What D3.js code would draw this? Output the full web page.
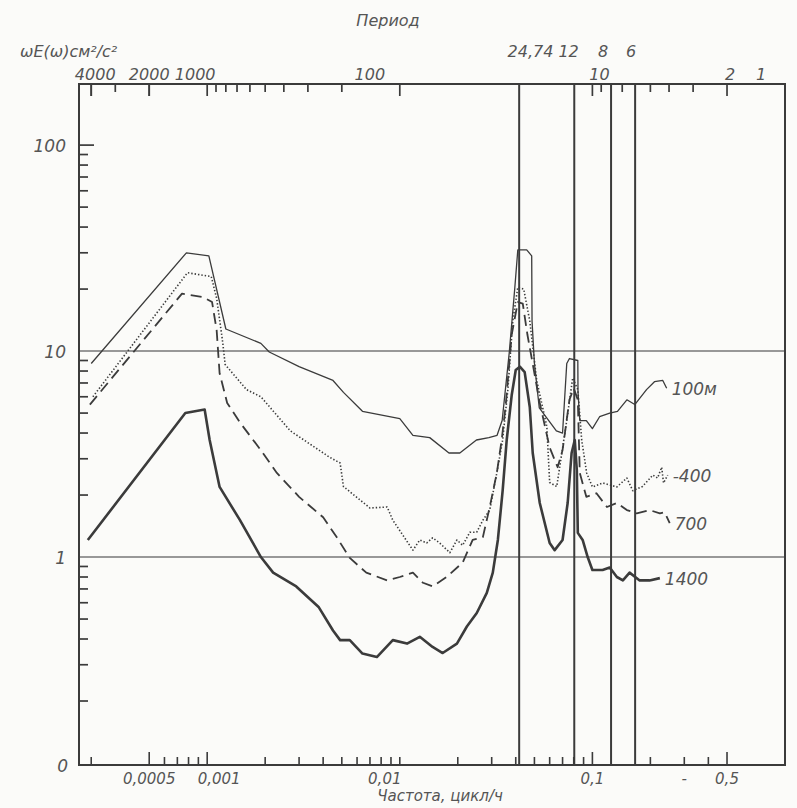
<!DOCTYPE html>
<html>
<head>
<meta charset="utf-8">
<script src="https://cdn.jsdelivr.net/npm/d3@7"></script>
<style>
  body { margin: 0; background: #fbfbf9; }
  text { font-family: "DejaVu Sans", sans-serif; font-style: italic; fill: #555; }
</style>
</head>
<body>
<div id="chart"></div>
<script>
// частота, цикл/ч  и  ωE(ω), см²/с²  для четырёх горизонтов
var f100 = [0.00025, 0.00078, 0.00102, 0.00125, 0.0019, 0.0021, 0.003, 0.0045, 0.0051, 0.0064, 0.01, 0.0117, 0.0143, 0.018, 0.0205, 0.025, 0.029, 0.032, 0.034, 0.037, 0.0395, 0.041, 0.0456, 0.0484, 0.0486, 0.050, 0.053, 0.065, 0.070, 0.0736, 0.076, 0.084, 0.0842, 0.086, 0.093, 0.100, 0.109, 0.123, 0.135, 0.151, 0.166, 0.191, 0.21, 0.232, 0.243];
var v100 = [8.7, 30, 29, 12.8, 10.9, 9.9, 8.4, 7.2, 6.3, 5.1, 4.7, 3.9, 3.8, 3.2, 3.2, 3.7, 3.8, 3.9, 4.6, 9.8, 20, 31, 31, 29, 14, 8.7, 5.3, 4.1, 4.0, 8.7, 9.2, 9.0, 6.3, 4.6, 4.6, 4.2, 4.8, 5.0, 5.1, 5.8, 5.5, 6.5, 7.1, 7.2, 6.6];

var f400 = [0.000255, 0.00079, 0.00105, 0.00112, 0.0012, 0.00124, 0.0016, 0.0019, 0.0027, 0.0043, 0.0049, 0.0051, 0.007, 0.0086, 0.0092, 0.0117, 0.0127, 0.0138, 0.0148, 0.0161, 0.0182, 0.0198, 0.0212, 0.0231, 0.0251, 0.027, 0.0293, 0.0319, 0.0342, 0.0364, 0.0386, 0.041, 0.044, 0.0473, 0.0514, 0.058, 0.060, 0.0653, 0.0736, 0.079, 0.084, 0.088, 0.0934, 0.100, 0.113, 0.134, 0.151, 0.162, 0.182, 0.206, 0.218, 0.229, 0.234, 0.246];
var v400 = [6.0, 24, 23, 18, 11.3, 8.6, 6.5, 6.0, 4.1, 3.06, 2.86, 2.2, 1.73, 1.75, 1.51, 1.08, 1.21, 1.17, 1.24, 1.17, 1.05, 1.21, 1.14, 1.32, 1.32, 1.51, 1.69, 2.56, 3.7, 6.5, 14, 20.4, 20, 14, 7.2, 4.3, 2.3, 2.2, 4.6, 7.4, 6.5, 3.7, 2.56, 2.19, 2.29, 2.19, 2.42, 2.1, 2.2, 2.5, 2.42, 2.73, 2.29, 2.5];

var f700 = [0.000246, 0.00074, 0.00095, 0.00106, 0.00112, 0.00116, 0.00127, 0.00148, 0.0019, 0.0023, 0.003, 0.004, 0.0047, 0.0055, 0.0067, 0.0086, 0.01, 0.0117, 0.0132, 0.0148, 0.0175, 0.0212, 0.0239, 0.027, 0.0293, 0.0319, 0.0338, 0.0355, 0.0381, 0.041, 0.0435, 0.046, 0.0533, 0.060, 0.066, 0.070, 0.076, 0.080, 0.084, 0.086, 0.093, 0.105, 0.119, 0.134, 0.151, 0.170, 0.198, 0.224, 0.237, 0.252];
var v700 = [5.5, 19, 18.3, 17.3, 12.6, 7.8, 5.6, 4.5, 3.3, 2.56, 1.96, 1.56, 1.25, 0.99, 0.84, 0.77, 0.80, 0.84, 0.75, 0.72, 0.80, 0.94, 1.21, 1.25, 1.75, 2.56, 3.7, 5.5, 12, 17.3, 17, 12, 5.6, 3.4, 2.73, 3.3, 5.8, 6.6, 5.8, 2.56, 1.96, 2.04, 1.75, 1.83, 1.69, 1.63, 1.69, 1.63, 1.65, 1.46];

var f1400 = [0.00024, 0.00077, 0.00097, 0.00103, 0.00116, 0.00148, 0.0019, 0.0022, 0.0029, 0.0038, 0.0045, 0.0049, 0.0055, 0.0064, 0.0076, 0.0092, 0.0109, 0.0127, 0.0148, 0.0167, 0.0198, 0.0223, 0.0251, 0.0283, 0.0304, 0.0323, 0.0342, 0.0359, 0.0381, 0.040, 0.042, 0.0445, 0.0473, 0.049, 0.0533, 0.060, 0.0637, 0.070, 0.0744, 0.078, 0.081, 0.083, 0.084, 0.089, 0.0945, 0.100, 0.113, 0.123, 0.134, 0.144, 0.156, 0.176, 0.198, 0.224];
var v1400 = [1.21, 5.0, 5.2, 3.7, 2.19, 1.51, 1.0, 0.84, 0.72, 0.57, 0.44, 0.395, 0.395, 0.34, 0.327, 0.395, 0.38, 0.41, 0.366, 0.342, 0.38, 0.46, 0.535, 0.67, 0.84, 1.21, 2.1, 3.7, 6.1, 8.1, 8.4, 7.9, 5.35, 3.2, 1.83, 1.17, 1.08, 1.21, 1.83, 3.2, 3.7, 2.64, 1.31, 1.21, 1.0, 0.865, 0.865, 0.89, 0.80, 0.77, 0.84, 0.77, 0.77, 0.79];

var seriesNames = ['100м', '-400', '700', '1400'];

// периоды приливных линий, ч
var tidePeriods = [24, 12.42, 8, 6];
// подписи осей
var bottomLabels = [0.0005, 0.001, 0.01, 0.1, 0.5];
var bottomLong = [0.0005, 0.001, 0.1, 0.5];
var topLabels = [4000, 2000, 1000, 100, 10, 2];
var yLabels = [100, 10, 1];

var width = 797, height = 808;
var svg = d3.select('#chart').append('svg')
    .attr('width', width)
    .attr('height', height);

var pLeft = 79, pRight = 785, pTop = 84, pBottom = 765;

var x = d3.scaleLog().domain([0.000216, 1]).range([pLeft, pRight]);
var y = d3.scaleLog().domain([0.0978, 198]).range([pBottom, pTop]);

var ink = '#3b3b3b';

// сетка: горизонтальные линии 10 и 1
svg.selectAll('.hgrid')
    .data([10, 1])
    .enter().append('line')
    .attr('x1', pLeft).attr('x2', pRight)
    .attr('y1', d => y(d)).attr('y2', d => y(d))
    .attr('stroke', '#777').attr('stroke-width', 1.6);

// вертикальные приливные линии
svg.selectAll('.vline')
    .data(tidePeriods)
    .enter().append('line')
    .attr('x1', d => x(1 / d)).attr('x2', d => x(1 / d))
    .attr('y1', pTop).attr('y2', pBottom)
    .attr('stroke', ink).attr('stroke-width', 2);

// нижние штрихи
var bottomTicks = [0.00025];
[0.0005, 0.0006, 0.0007, 0.0008, 0.0009].forEach(v => bottomTicks.push(v));
[1, 2, 3, 4, 5, 6, 7, 8, 9].forEach(k => { bottomTicks.push(k * 0.001); bottomTicks.push(k * 0.01); });
[0.1, 0.2, 0.3, 0.4, 0.5].forEach(v => bottomTicks.push(v));

svg.selectAll('.btick')
    .data(bottomTicks)
    .enter().append('line')
    .attr('x1', d => x(d)).attr('x2', d => x(d))
    .attr('y1', pBottom)
    .attr('y2', d => pBottom - (bottomLong.some(b => Math.abs(b - d) < 1e-9) ? 13 : 8))
    .attr('stroke', ink).attr('stroke-width', 1.6);

// верхние штрихи (периоды)
var topTicks = [4000, 2000];
[1000, 100].forEach(base => { for (var k = 1; k <= 9; k++) topTicks.push(k * base); });
[10, 9, 7, 5, 4, 3, 2].forEach(v => topTicks.push(v));
topTicks = topTicks.filter(p => p <= 4000);

svg.selectAll('.ttick')
    .data(topTicks)
    .enter().append('line')
    .attr('x1', d => x(1 / d)).attr('x2', d => x(1 / d))
    .attr('y1', pTop)
    .attr('y2', d => pTop + (topLabels.indexOf(d) >= 0 ? 12 : 8))
    .attr('stroke', ink).attr('stroke-width', 1.7);

// левые штрихи
var yTicks = [100];
[0.1, 1, 10].forEach(base => { for (var k = 2; k <= 9; k++) yTicks.push(k * base); });

svg.selectAll('.ytick')
    .data(yTicks)
    .enter().append('line')
    .attr('x1', pLeft)
    .attr('x2', d => pLeft + (d === 100 ? 15 : 9))
    .attr('y1', d => y(d)).attr('y2', d => y(d))
    .attr('stroke', ink).attr('stroke-width', 1.7);

// рамка
svg.append('rect')
    .attr('x', pLeft).attr('y', pTop)
    .attr('width', pRight - pLeft).attr('height', pBottom - pTop)
    .attr('fill', 'none').attr('stroke', ink).attr('stroke-width', 2);

// кривые
var line = d3.line()
    .x(d => x(d[0]))
    .y(d => y(d[1]));

var series = [
    { f: f100, v: v100, width: 1.3, dash: null },
    { f: f400, v: v400, width: 1.6, dash: '1.4,2' },
    { f: f700, v: v700, width: 1.8, dash: '11,6' },
    { f: f1400, v: v1400, width: 2.6, dash: null }
];

series.forEach(function (s, i) {
    var pts = d3.zip(s.f, s.v);
    svg.append('path')
        .datum(pts)
        .attr('d', line)
        .attr('fill', 'none')
        .attr('stroke', ink)
        .attr('stroke-width', s.width)
        .attr('stroke-linejoin', 'round')
        .attr('stroke-dasharray', s.dash);
    var last = pts[pts.length - 1];
    svg.append('text')
        .attr('x', x(last[0]) + 5)
        .attr('y', y(last[1]) + 7)
        .style('font-size', '17px')
        .text(seriesNames[i]);
});

// подписи оси Y
svg.selectAll('.ylab')
    .data(yLabels)
    .enter().append('text')
    .attr('x', 66)
    .attr('y', d => y(d) + 7)
    .attr('text-anchor', 'end')
    .style('font-size', '17px')
    .text(d => d);
svg.append('text')
    .attr('x', 68).attr('y', pBottom + 7)
    .attr('text-anchor', 'end')
    .style('font-size', '17px')
    .text('0');

// нижние подписи
var fmt = d => String(d).replace('.', ',');
var bottomShift = { 0.001: 12, 0.01: -15 };
svg.selectAll('.blab')
    .data(bottomLabels)
    .enter().append('text')
    .attr('x', d => x(d) + (bottomShift[d] || 0))
    .attr('y', pBottom + 19)
    .attr('text-anchor', 'middle')
    .style('font-size', '15px')
    .text(fmt);
svg.append('text')
    .attr('x', x(0.3)).attr('y', pBottom + 19)
    .attr('text-anchor', 'middle')
    .style('font-size', '15px')
    .text('-');
svg.append('text')
    .attr('x', 440).attr('y', 801)
    .attr('text-anchor', 'middle')
    .style('font-size', '15px')
    .text('Частота, цикл/ч');

// верхние подписи
var topShift = { 4000: 4, 1000: -12, 100: -30, 10: 7, 2: 3 };
svg.selectAll('.tlab')
    .data(topLabels)
    .enter().append('text')
    .attr('x', d => x(1 / d) + (topShift[d] || 0))
    .attr('y', pTop - 4)
    .attr('text-anchor', 'middle')
    .style('font-size', '16px')
    .text(d => d);
svg.append('text')
    .attr('x', x(1) - 24).attr('y', pTop - 4)
    .attr('text-anchor', 'middle')
    .style('font-size', '16px')
    .text('1');
svg.append('text')
    .attr('x', x(1 / 24) + 24).attr('y', 57)
    .attr('text-anchor', 'middle')
    .style('font-size', '16px')
    .text('24,74 12');
svg.append('text')
    .attr('x', x(1 / 8) - 8).attr('y', 57)
    .attr('text-anchor', 'middle')
    .style('font-size', '16px')
    .text('8');
svg.append('text')
    .attr('x', x(1 / 6) - 4).attr('y', 57)
    .attr('text-anchor', 'middle')
    .style('font-size', '16px')
    .text('6');
svg.append('text')
    .attr('x', 388).attr('y', 26)
    .attr('text-anchor', 'middle')
    .style('font-size', '16px')
    .text('Период');
svg.append('text')
    .attr('x', 20).attr('y', 57)
    .style('font-size', '16px')
    .text('ωE(ω)см²/с²');
</script>
</body>
</html>
